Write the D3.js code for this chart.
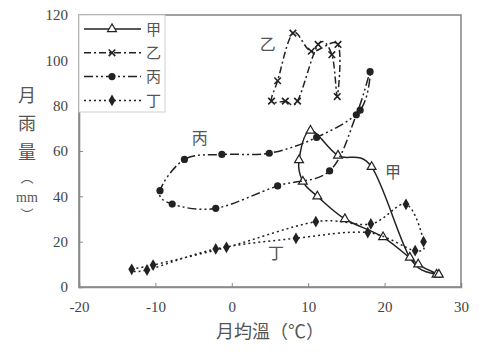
<!DOCTYPE html>
<html>
<head>
<meta charset="utf-8">
<script src="https://cdn.jsdelivr.net/npm/d3@7"></script>
<style>
  body { margin: 0; background: #fff; }
  svg { display: block; }
</style>
</head>
<body>
<div id="chart"></div>
<script>
// monthly temperature (°C) and rainfall (mm)
const jiaTemp = [10.3, 13.9, 18.3, 23.3, 26.8, 27.1, 24.4, 19.8, 14.8, 11.2, 9.3, 8.8];
const jiaRain = [69, 58, 53, 13, 5.5, 5.5, 10, 22, 30, 40, 46.5, 56];

const yiTemp = [5.2, 7.0, 8.6, 11.3, 13.1, 13.8, 13.9, 10.4, 8.0, 6.0];
const yiRain = [82, 82, 82, 107, 102.5, 84, 107, 104, 112, 91];

const bingTemp = [18.1, 16.8, 11.1, 4.9, -1.3, -6.2, -9.4, -7.8, -2.1, 6.0, 12.8, 16.3];
const bingRain = [95, 78, 66, 59, 58.5, 56.3, 42.5, 36.6, 34.7, 44.6, 51.2, 76];

const dingTemp = [-13.1, -11.1, -2.1, 8.4, 17.8, 24.0, 25.1, 22.8, 18.2, 11.0, -0.7, -10.3];
const dingRain = [7.8, 7.5, 16.8, 21.5, 24.0, 16.0, 20.0, 36.5, 27.8, 28.8, 17.5, 9.7];

const seriesNames = ['甲', '乙', '丙', '丁'];
const xTicks = [-20, -10, 0, 10, 20, 30];
const yTicks = [0, 20, 40, 60, 80, 100, 120];

const zip = (t, r) => t.map((v, i) => ({ t: v, r: r[i] }));
const series = [
  { name: seriesNames[0], pts: zip(jiaTemp, jiaRain), dash: null, marker: 'tri' },
  { name: seriesNames[1], pts: zip(yiTemp, yiRain), dash: '7,3,2,3', marker: 'x' },
  { name: seriesNames[2], pts: zip(bingTemp, bingRain), dash: '9,3,2,3,2,3', marker: 'dot' },
  { name: seriesNames[3], pts: zip(dingTemp, dingRain), dash: '2,3', marker: 'diamond' }
];

const width = 495, height = 362;
const margin = { top: 15, right: 34, bottom: 75, left: 79 };
const ink = '#222';
const textCol = '#555';

const svg = d3.select('#chart').append('svg')
  .attr('width', width)
  .attr('height', height);

const x = d3.scaleLinear().domain([-20, 30]).range([margin.left, width - margin.right]);
const y = d3.scaleLinear().domain([0, 120]).range([height - margin.bottom, margin.top]);

// plot frame
svg.append('rect')
  .attr('x', x(-20)).attr('y', y(120))
  .attr('width', x(30) - x(-20)).attr('height', y(0) - y(120))
  .attr('fill', 'none').attr('stroke', '#8a8a8a').attr('stroke-width', 1.6);

const xAxis = svg.append('g')
  .attr('transform', 'translate(0,' + y(0) + ')')
  .call(d3.axisBottom(x).tickValues(xTicks).tickSize(-4).tickPadding(14).tickFormat(d => String(d)));
const yAxis = svg.append('g')
  .attr('transform', 'translate(' + x(-20) + ',0)')
  .call(d3.axisLeft(y).tickValues(yTicks).tickSize(-4).tickPadding(11));

[xAxis, yAxis].forEach(a => {
  a.select('.domain').attr('stroke', '#8a8a8a').attr('stroke-width', 1.6);
  a.selectAll('.tick line').attr('stroke', '#8a8a8a');
  a.selectAll('.tick text')
    .attr('fill', '#444')
    .style('font-family', '"Liberation Serif", serif')
    .style('font-size', '15px');
});

// markers
function drawMarker(g, type, cx, cy) {
  if (type === 'tri') {
    g.append('path')
      .attr('d', d3.symbol(d3.symbolTriangle, 34)())
      .attr('transform', 'translate(' + cx + ',' + cy + ')')
      .attr('fill', '#fff').attr('stroke', ink).attr('stroke-width', 1.2);
  } else if (type === 'x') {
    g.append('path')
      .attr('d', d3.symbol(d3.symbolX, 30)())
      .attr('transform', 'translate(' + cx + ',' + cy + ')')
      .attr('fill', 'none').attr('stroke', ink).attr('stroke-width', 1.6);
  } else if (type === 'dot') {
    g.append('circle').attr('cx', cx).attr('cy', cy).attr('r', 3.6).attr('fill', ink);
  } else {
    g.append('path')
      .attr('d', d3.symbol(d3.symbolDiamond, 40)())
      .attr('transform', 'translate(' + cx + ',' + cy + ')')
      .attr('fill', ink);
  }
}

const line = d3.line()
  .x(d => x(d.t))
  .y(d => y(d.r))
  .curve(d3.curveCardinalClosed.tension(0));

const plot = svg.append('g');
series.forEach(s => {
  plot.append('path')
    .datum(s.pts)
    .attr('d', line)
    .attr('fill', 'none')
    .attr('stroke', ink)
    .attr('stroke-width', 1.5)
    .attr('stroke-dasharray', s.dash);
  const mg = plot.append('g');
  s.pts.forEach(p => drawMarker(mg, s.marker, x(p.t), y(p.r)));
});

// series labels inside the plot
const labelPos = [
  { name: '甲', t: 21.1, r: 48 },
  { name: '乙', t: 4.7, r: 104.5 },
  { name: '丙', t: -4.2, r: 63 },
  { name: '丁', t: 5.8, r: 12.5 }
];
svg.append('g').selectAll('text').data(labelPos).enter().append('text')
  .attr('x', d => x(d.t)).attr('y', d => y(d.r))
  .attr('text-anchor', 'middle')
  .attr('fill', textCol)
  .style('font-family', '"Noto Sans CJK TC", sans-serif')
  .style('font-size', '16px')
  .text(d => d.name);

// legend
const lg = svg.append('g');
lg.append('rect')
  .attr('x', x(-20)).attr('y', y(120))
  .attr('width', 86).attr('height', 97)
  .attr('fill', '#fff').attr('stroke', '#d0d0d0').attr('stroke-width', 1);
series.forEach((s, i) => {
  const ly = 29 + i * 23.8;
  lg.append('line')
    .attr('x1', 84).attr('x2', 141).attr('y1', ly).attr('y2', ly)
    .attr('stroke', ink).attr('stroke-width', 1.5)
    .attr('stroke-dasharray', s.dash);
  drawMarker(lg, s.marker, 112, ly);
  lg.append('text')
    .attr('x', 146).attr('y', ly + 5.5)
    .attr('fill', textCol)
    .style('font-family', '"Noto Sans CJK TC", sans-serif')
    .style('font-size', '15px')
    .text(s.name);
});

// axis titles
svg.append('text')
  .attr('x', 270).attr('y', 338)
  .attr('text-anchor', 'middle')
  .attr('fill', textCol)
  .style('font-family', '"Noto Sans CJK TC", sans-serif')
  .style('font-size', '18px')
  .text('月均溫（℃）');

const yTitle = ['月', '雨', '量', '︵', 'mm', '︶'];
const yTitleY = [102, 130, 159, 182, 202, 219];
const yTitleSize = [18, 18, 18, 13, 14, 13];
svg.append('g').selectAll('text').data(yTitle).enter().append('text')
  .attr('x', 27).attr('y', (d, i) => yTitleY[i])
  .attr('text-anchor', 'middle')
  .attr('fill', textCol)
  .style('font-family', (d) => d === 'mm' ? '"Liberation Serif", serif' : '"Noto Sans CJK TC", sans-serif')
  .style('font-size', (d, i) => yTitleSize[i] + 'px')
  .text(d => d);
</script>
</body>
</html>
